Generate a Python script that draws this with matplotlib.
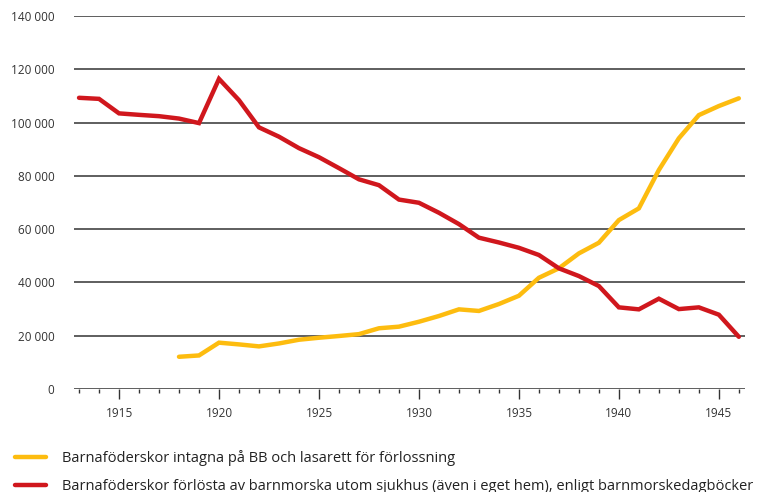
import matplotlib
matplotlib.use('Agg')
import matplotlib.pyplot as plt
from matplotlib.ticker import FuncFormatter, MultipleLocator

plt.rcParams['font.family'] = ['Open Sans', 'DejaVu Sans']

# Barnaföderskor intagna på BB och lasarett (1918-1946)
ar_bb = list(range(1918, 1947))
bb = [12100, 12600, 17400, 16750, 16000, 17100, 18500, 19250, 19900, 20600,
      22800, 23400, 25250, 27400, 29900, 29300, 31900, 35000, 41750, 45300,
      50900, 54900, 63400, 67800, 82200, 94100, 102800, 106200, 109100]

# Barnaföderskor förlösta av barnmorska utom sjukhus (1913-1946)
ar_hem = list(range(1913, 1947))
hem = [109300, 108900, 103450, 102900, 102400, 101500, 99800, 116400, 108400,
       98200, 94700, 90400, 87000, 82900, 78700, 76500, 71100, 69900, 66150,
       61900, 56800, 55000, 53000, 50300, 45300, 42400, 38650, 30650, 29900,
       33900, 30000, 30650, 27900, 19600]

etikett_bb = 'Barnaföderskor intagna på BB och lasarett för förlossning'
etikett_hem = ('Barnaföderskor förlösta av barnmorska utom sjukhus '
               '(även i eget hem), enligt barnmorskedagböcker')

fig = plt.figure(figsize=(7.64, 4.92), dpi=100)
ax = fig.add_axes([0.0969, 0.2093, 0.878, 0.7582])

for y in range(0, 140001, 20000):
    ax.axhline(y, color='#333333', lw=1.1, zorder=1)

ax.plot(ar_bb, bb, color='#FDBC0F', lw=3.2, solid_capstyle='round',
        solid_joinstyle='miter', label=etikett_bb, zorder=3)
ax.plot(ar_hem, hem, color='#D0171D', lw=3.2, solid_capstyle='round',
        solid_joinstyle='miter', label=etikett_hem, zorder=3)

ax.set_xlim(1912.75, 1946.3)
ax.set_ylim(0, 140000)

for s in ax.spines.values():
    s.set_visible(False)

ax.xaxis.set_major_locator(MultipleLocator(5))
ax.xaxis.set_minor_locator(MultipleLocator(1))
ax.yaxis.set_major_locator(MultipleLocator(20000))
ax.yaxis.set_major_formatter(FuncFormatter(lambda v, p: f'{int(v):,}'.replace(',', ' ') if v >= 1000 else '0'))

ax.tick_params(axis='x', which='major', length=7, width=1, color='#333333',
               pad=6, labelsize=8.5, labelcolor='#333333')
ax.tick_params(axis='x', which='minor', length=3, width=1, color='#333333')
ax.tick_params(axis='y', length=0, pad=14, labelsize=8.5, labelcolor='#333333')

fig.legend(loc='upper left', bbox_to_anchor=(0.0196, 0.086), frameon=False,
           fontsize=10.5, handlelength=2.15, handletextpad=1.05,
           labelspacing=0.9, borderaxespad=0, borderpad=0,
           labelcolor='#222222')

fig.savefig('out.png', dpi=100)
